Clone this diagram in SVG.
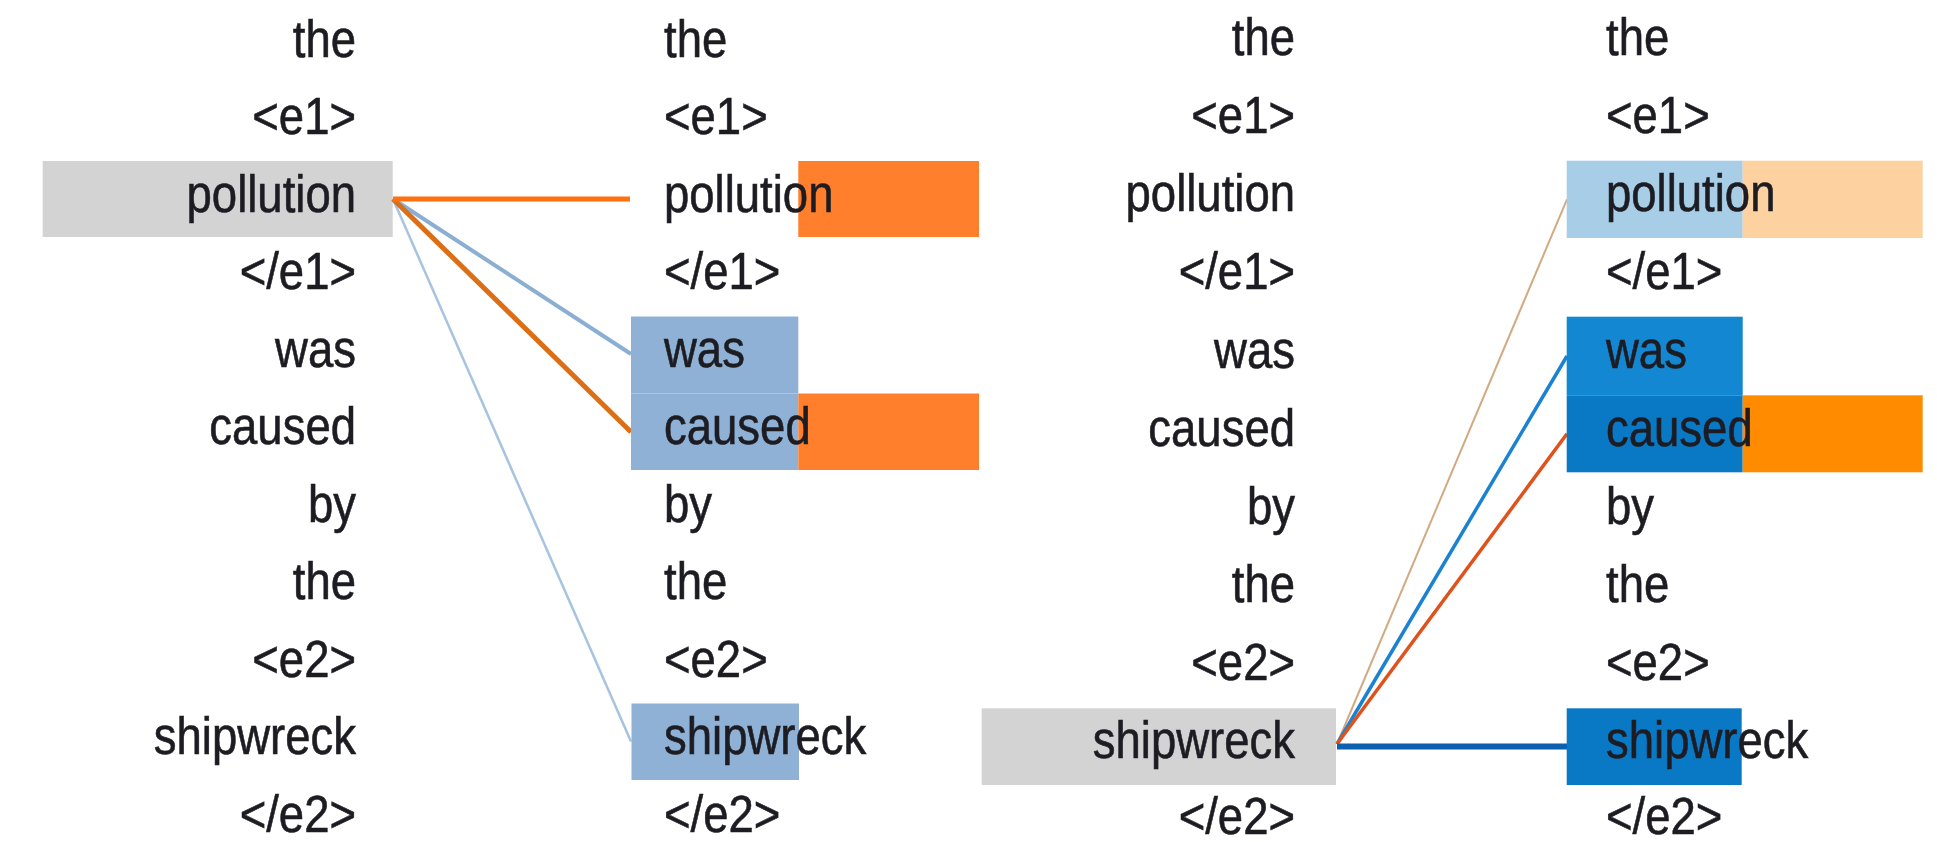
<svg xmlns="http://www.w3.org/2000/svg" width="1937" height="842" viewBox="0 0 1937 842">
<style>
  text { font-family: "Liberation Sans", Arial, sans-serif; font-size: 52px; fill: #1c1c22; stroke: #1c1c22; stroke-width: 0.6px; }
  .e { text-anchor: end; }
  .s { text-anchor: start; }
  .gray { fill: #d3d3d3; }
  .sb { fill: #8fb1d5; }
  .or { fill: #ff7f2c; }
  .lb { fill: #a8cde7; }
  .pe { fill: #fed2a0; }
  .b1 { fill: #1387d1; }
  .b2 { fill: #0a79c5; }
  .or2 { fill: #ff8c00; }
  .ln { fill: none; stroke-linecap: butt; }
</style>

<!-- Left panel: source column -->
<g id="A0"><text class="e" transform="translate(356,56.5) scale(0.875,1)">the</text></g>
<g id="A1"><text class="e" transform="translate(356,134) scale(0.875,1)">&lt;e1&gt;</text></g>
<g id="A2"><rect class="gray" x="42.7" y="161" width="350" height="76"/><text class="e" transform="translate(356,211.5) scale(0.875,1)">pollution</text></g>
<g id="A3"><text class="e" transform="translate(356,289) scale(0.875,1)">&lt;/e1&gt;</text></g>
<g id="A4"><text class="e" transform="translate(356,366.5) scale(0.875,1)">was</text></g>
<g id="A5"><text class="e" transform="translate(356,444) scale(0.875,1)">caused</text></g>
<g id="A6"><text class="e" transform="translate(356,521.5) scale(0.875,1)">by</text></g>
<g id="A7"><text class="e" transform="translate(356,599) scale(0.875,1)">the</text></g>
<g id="A8"><text class="e" transform="translate(356,676.5) scale(0.875,1)">&lt;e2&gt;</text></g>
<g id="A9"><text class="e" transform="translate(356,754) scale(0.875,1)">shipwreck</text></g>
<g id="A10"><text class="e" transform="translate(356,832) scale(0.875,1)">&lt;/e2&gt;</text></g>

<!-- Left panel connectors -->
<g id="connectors-left">
  <line class="ln" x1="393" y1="199" x2="631" y2="741.5" stroke="#a6c3e0" stroke-width="2.5"/>
  <line class="ln" x1="393" y1="199" x2="631" y2="354" stroke="#8bafd2" stroke-width="4"/>
  <line class="ln" x1="393" y1="199" x2="631" y2="432" stroke="#dc6e16" stroke-width="5"/>
  <line class="ln" x1="393" y1="199" x2="630" y2="199" stroke="#ff7010" stroke-width="5"/>
</g>

<!-- Left panel: target column -->
<g id="B0"><text class="s" transform="translate(664,56.5) scale(0.875,1)">the</text></g>
<g id="B1"><text class="s" transform="translate(664,134) scale(0.875,1)">&lt;e1&gt;</text></g>
<g id="B2"><rect class="or" x="798.3" y="161" width="180.7" height="76"/><text class="s" transform="translate(664,211.5) scale(0.875,1)">pollution</text></g>
<g id="B3"><text class="s" transform="translate(664,289) scale(0.875,1)">&lt;/e1&gt;</text></g>
<g id="B4"><rect class="sb" x="631" y="316.5" width="167.3" height="77"/><text class="s" transform="translate(664,366.5) scale(0.875,1)">was</text></g>
<g id="B5"><rect class="sb" x="631" y="393.5" width="167.3" height="76.5"/><rect class="or" x="798.3" y="393.5" width="180.7" height="76.5"/><text class="s" transform="translate(664,444) scale(0.875,1)">caused</text></g>
<g id="B6"><text class="s" transform="translate(664,521.5) scale(0.875,1)">by</text></g>
<g id="B7"><text class="s" transform="translate(664,599) scale(0.875,1)">the</text></g>
<g id="B8"><text class="s" transform="translate(664,676.5) scale(0.875,1)">&lt;e2&gt;</text></g>
<g id="B9"><rect class="sb" x="631.5" y="703.5" width="167.5" height="76.5"/><text class="s" transform="translate(664,754) scale(0.875,1)">shipwreck</text></g>
<g id="B10"><text class="s" transform="translate(664,832) scale(0.875,1)">&lt;/e2&gt;</text></g>

<!-- Right panel: source column -->
<g id="C0"><text class="e" transform="translate(1295,55) scale(0.875,1)">the</text></g>
<g id="C1"><text class="e" transform="translate(1295,133) scale(0.875,1)">&lt;e1&gt;</text></g>
<g id="C2"><text class="e" transform="translate(1295,211.2) scale(0.875,1)">pollution</text></g>
<g id="C3"><text class="e" transform="translate(1295,289.4) scale(0.875,1)">&lt;/e1&gt;</text></g>
<g id="C4"><text class="e" transform="translate(1295,367.6) scale(0.875,1)">was</text></g>
<g id="C5"><text class="e" transform="translate(1295,445.8) scale(0.875,1)">caused</text></g>
<g id="C6"><text class="e" transform="translate(1295,524) scale(0.875,1)">by</text></g>
<g id="C7"><text class="e" transform="translate(1295,602.2) scale(0.875,1)">the</text></g>
<g id="C8"><text class="e" transform="translate(1295,680.4) scale(0.875,1)">&lt;e2&gt;</text></g>
<g id="C9"><rect class="gray" x="981.7" y="708.3" width="354.3" height="76.7"/><text class="e" transform="translate(1295,757.5) scale(0.875,1)">shipwreck</text></g>
<g id="C10"><text class="e" transform="translate(1295,834) scale(0.875,1)">&lt;/e2&gt;</text></g>

<!-- Right panel connectors -->
<g id="connectors-right">
  <line class="ln" x1="1337" y1="744" x2="1567" y2="199.3" stroke="#d2aa82" stroke-width="2"/>
  <line class="ln" x1="1337" y1="744" x2="1567" y2="356" stroke="#1b82d2" stroke-width="3.5"/>
  <line class="ln" x1="1337" y1="744" x2="1567" y2="433.8" stroke="#e0521c" stroke-width="3.5"/>
  <line class="ln" x1="1337" y1="746.5" x2="1567" y2="746.5" stroke="#0d5fb0" stroke-width="6"/>
</g>

<!-- Right panel: target column -->
<g id="D0"><text class="s" transform="translate(1606,55) scale(0.875,1)">the</text></g>
<g id="D1"><text class="s" transform="translate(1606,133) scale(0.875,1)">&lt;e1&gt;</text></g>
<g id="D2"><rect class="lb" x="1566.7" y="160.7" width="176" height="77.3"/><rect class="pe" x="1742.7" y="160.7" width="180" height="77.3"/><text class="s" transform="translate(1606,211.2) scale(0.875,1)">pollution</text></g>
<g id="D3"><text class="s" transform="translate(1606,289.4) scale(0.875,1)">&lt;/e1&gt;</text></g>
<g id="D4"><rect class="b1" x="1566.7" y="316.7" width="176" height="78.6"/><text class="s" transform="translate(1606,367.6) scale(0.875,1)">was</text></g>
<g id="D5"><rect class="b2" x="1566.7" y="395.3" width="176" height="77"/><rect class="or2" x="1742.7" y="395.3" width="180" height="77"/><text class="s" transform="translate(1606,445.8) scale(0.875,1)">caused</text></g>
<g id="D6"><text class="s" transform="translate(1606,524) scale(0.875,1)">by</text></g>
<g id="D7"><text class="s" transform="translate(1606,602.2) scale(0.875,1)">the</text></g>
<g id="D8"><text class="s" transform="translate(1606,680.4) scale(0.875,1)">&lt;e2&gt;</text></g>
<g id="D9"><rect class="b2" x="1566.7" y="708.3" width="175" height="76.7"/><text class="s" transform="translate(1606,757.5) scale(0.875,1)">shipwreck</text></g>
<g id="D10"><text class="s" transform="translate(1606,834) scale(0.875,1)">&lt;/e2&gt;</text></g>
</svg>
